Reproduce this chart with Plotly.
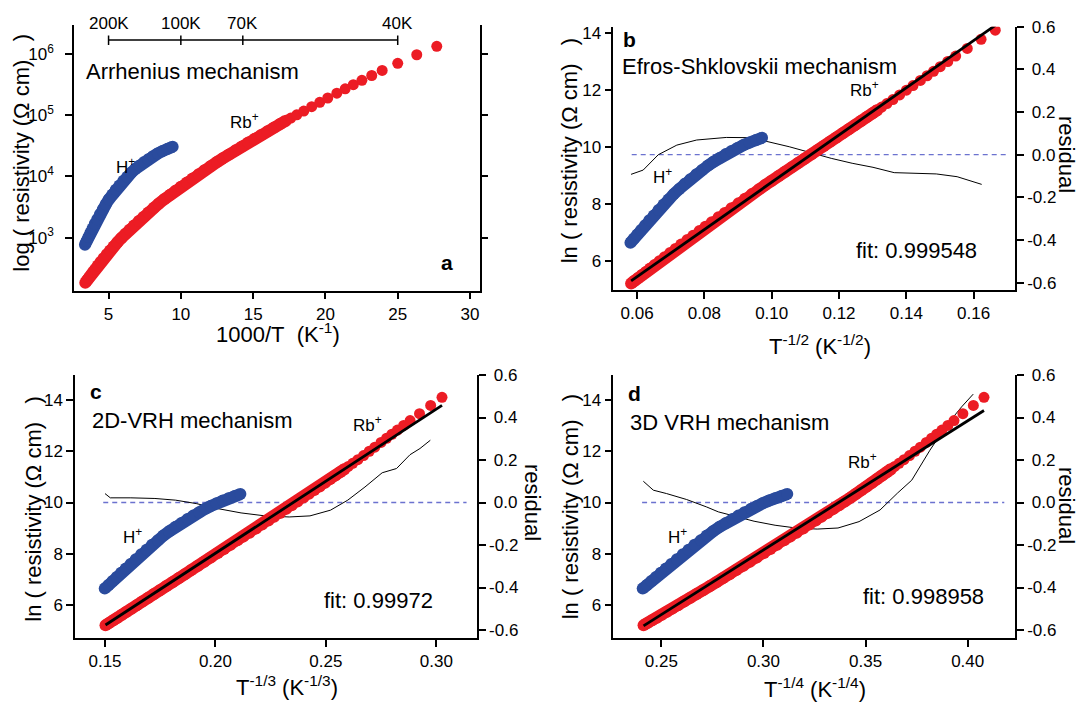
import numpy as np
import plotly.graph_objects as go

W, H = 1079, 705

# ---------------- data ----------------
# Rb+ sample: temperature (K) and ln(resistivity / Ohm cm)
T_Rb = [295, 285, 275, 265, 255, 245, 235, 225, 215, 205,
        196, 187, 178, 170, 162, 155, 148, 141, 135, 129,
        123, 118, 113, 108, 104, 100, 96, 92.5, 89, 86,
        83, 80, 77.5, 75, 72.5, 70.3, 68.2, 66.2, 64.3, 62.5,
        60.8, 59.2, 57.9,
        56.8, 55.5, 54.05, 52.5, 51.0, 49.6, 48.1, 46.8, 45.6, 44.4,
        43.1, 41.8, 40.0, 38.0, 36.1]
lnrho_Rb = [5.212, 5.302, 5.400, 5.504, 5.615, 5.734, 5.858, 5.992, 6.132, 6.281,
            6.425, 6.576, 6.737, 6.890, 7.052, 7.202, 7.363, 7.533, 7.689, 7.855,
            8.030, 8.187, 8.349, 8.522, 8.668, 8.822, 8.985, 9.137, 9.297, 9.440,
            9.591, 9.751, 9.892, 10.040, 10.196, 10.341, 10.485, 10.628, 10.772, 10.914,
            11.055, 11.192, 11.307,
            11.407, 11.529, 11.670, 11.833, 12.000, 12.161, 12.343, 12.507, 12.664, 12.827,
            13.008, 13.198, 13.467, 13.788, 14.106]
dense_limit_K = 57.9   # above this temperature the measured points merge into a band

# H+ sample
T_H = [297, 287, 277, 267, 257, 247, 237, 227, 217, 208,
       199, 190, 182, 174, 166, 159, 152, 146, 140, 134,
       129, 124, 119, 114.5, 110, 106]
lnrho_H = [6.640, 6.782, 6.935, 7.091, 7.255, 7.428, 7.601, 7.789, 7.981, 8.159,
           8.349, 8.531, 8.709, 8.874, 9.051, 9.200, 9.356, 9.488, 9.621, 9.755,
           9.862, 9.971, 10.074, 10.164, 10.253, 10.328]

# linear fits of the Rb+ data: [intercept, slope]
fit_b = [0.47, 82.95]     # ln rho vs T^-1/2
fit_c = [-3.231, 56.25]   # ln rho vs T^-1/3
fit_d = [-6.983, 50.43]   # ln rho vs T^-1/4
fit_labels = ["fit: 0.999548", "fit: 0.99972", "fit: 0.998958"]

# residual curves (right axes)
res_b_x = [0.0582, 0.0618, 0.0663, 0.0718, 0.0777, 0.0826, 0.0865, 0.0927, 0.0989, 0.1052,
           0.1114, 0.1177, 0.1239, 0.1301, 0.1364, 0.1426, 0.1489, 0.1551, 0.1624]
res_b = [-0.092, -0.072, 0.000, 0.045, 0.069, 0.077, 0.081, 0.080, 0.061, 0.0375,
         0.009, -0.017, -0.040, -0.059, -0.084, -0.0875, -0.090, -0.103, -0.139]
res_c_x = [0.1500, 0.1524, 0.1617, 0.1726, 0.1820, 0.1913, 0.2007, 0.2116, 0.2225, 0.2334,
           0.2428, 0.2521, 0.2599, 0.2677, 0.2755, 0.2820, 0.2881, 0.2926, 0.2973]
res_c = [0.042, 0.022, 0.022, 0.019, 0.011, -0.005, -0.028, -0.049, -0.063, -0.068,
         -0.063, -0.036, 0.011, 0.073, 0.140, 0.160, 0.225, 0.254, 0.293]
res_d_x = [0.2412, 0.2461, 0.2526, 0.2624, 0.2722, 0.2779, 0.2851, 0.2954, 0.3057, 0.3160,
           0.3263, 0.3365, 0.3468, 0.3571, 0.3657, 0.3726, 0.3815, 0.3897, 0.3970, 0.4027]
res_d = [0.100, 0.058, 0.042, 0.014, -0.021, -0.044, -0.062, -0.088, -0.107, -0.120,
         -0.125, -0.120, -0.090, -0.035, 0.045, 0.105, 0.246, 0.364, 0.450, 0.510]
zero_b = [0.0584, 0.1707]
zero_c = [0.1492, 0.3137]
zero_d = [0.2406, 0.4179]

# temperature scale bar of panel a
temps_bar = [200, 100, 70, 40]
temps_bar_labels = ["200K", "100K", "70K", "40K"]

# ticks
a_xticks = [5, 10, 15, 20, 25, 30]
a_yticks = [1e3, 1e4, 1e5, 1e6]
a_yticktext = ["10<sup>3</sup>", "10<sup>4</sup>", "10<sup>5</sup>", "10<sup>6</sup>"]
b_xticks = [0.06, 0.08, 0.10, 0.12, 0.14, 0.16]
c_xticks = [0.15, 0.20, 0.25, 0.30]
d_xticks = [0.25, 0.30, 0.35, 0.40]
ln_ticks = [6, 8, 10, 12, 14]
res_ticks = [-0.6, -0.4, -0.2, 0.0, 0.2, 0.4, 0.6]
res_ticktext = ["-0.6", "-0.4", "-0.2", "\u00a00.0", "\u00a00.2", "\u00a00.4", "\u00a00.6"]

# ---------------- styling ----------------
RED = "#ec1c24"
BLUE = "#2a4b9d"
DASH = "#6b72cf"
FONT = "Arial, Liberation Sans, sans-serif"
MS_DENSE = 12
MS_TAIL = 11


def py(y):
    return 1 - y / H


fig = go.Figure()

Tr = np.array(T_Rb, float)
Lr = np.array(lnrho_Rb, float)
Th = np.array(T_H, float)
Lh = np.array(lnrho_H, float)
dense_r = Tr >= dense_limit_K
dense_h = np.ones(len(Th), bool)


def add_band(x, y, color, xa, ya, mask):
    fig.add_trace(go.Scatter(x=x[mask], y=y[mask], mode="lines",
                             line=dict(color=color, width=MS_DENSE),
                             xaxis=xa, yaxis=ya, hoverinfo="skip", opacity=1))
    sizes = np.where(mask, MS_DENSE, MS_TAIL).tolist()
    fig.add_trace(go.Scatter(x=x, y=y, mode="markers", opacity=1,
                             marker=dict(color=color, size=sizes, opacity=1,
                                         line=dict(width=0)),
                             xaxis=xa, yaxis=ya))


# panel a: Arrhenius (log10 rho vs 1000/T)
add_band(1000.0 / Th, np.exp(Lh), BLUE, "x", "y", dense_h)
add_band(1000.0 / Tr, np.exp(Lr), RED, "x", "y", dense_r)

# panels b, c, d
panel_defs = [
    ("x2", "y5", "y2", 1 / 2, fit_b, res_b_x, res_b, zero_b),
    ("x3", "y6", "y3", 1 / 3, fit_c, res_c_x, res_c, zero_c),
    ("x4", "y7", "y4", 1 / 4, fit_d, res_d_x, res_d, zero_d),
]
for xa, ya_ln, ya_res, p, fit, rx, ry, zx in panel_defs:
    xr = Tr ** (-p)
    xh = Th ** (-p)
    fig.add_trace(go.Scatter(x=zx, y=[0, 0], mode="lines",
                             line=dict(color=DASH, width=1.3, dash="5px,4px"),
                             xaxis=xa, yaxis=ya_res))
    fig.add_trace(go.Scatter(x=rx, y=ry, mode="lines",
                             line=dict(color="black", width=1),
                             xaxis=xa, yaxis=ya_res))
    add_band(xh, Lh, BLUE, xa, ya_ln, dense_h)
    add_band(xr, Lr, RED, xa, ya_ln, dense_r)
    xf = np.array([xr.min(), xr.max()])
    fig.add_trace(go.Scatter(x=xf, y=fit[0] + fit[1] * xf, mode="lines",
                             line=dict(color="black", width=2.8),
                             xaxis=xa, yaxis=ya_ln))


def ax(**kw):
    d = dict(showline=True, linecolor="black", linewidth=1.5, ticks="outside",
             ticklen=7, tickwidth=1.5, tickcolor="black", showgrid=False,
             zeroline=False, tickfont=dict(size=17, color="black", family=FONT),
             fixedrange=True)
    d.update(kw)
    return d


dom_bot = [py(638.3), py(375)]
dom_left_a = [74.0 / W, 479.7 / W]
dom_left_c = [75.1 / W, 476.9 / W]
dom_right = [613.3 / W, 1015.0 / W]

layout = dict(
    width=W, height=H, autosize=False, template="none",
    margin=dict(l=0, r=0, t=0, b=0),
    paper_bgcolor="white", plot_bgcolor="rgba(0,0,0,0)",
    showlegend=False, font=dict(family=FONT, color="black"),
    xaxis=ax(domain=dom_left_a, anchor="y", range=[2.61, 30.67], tickvals=a_xticks),
    yaxis=ax(domain=[py(290.5), py(25)], anchor="x", type="log", range=[2.137, 6.474],
             tickvals=a_yticks, ticktext=a_yticktext, mirror="ticks",
             ticklabelstandoff=8),
    xaxis2=ax(domain=dom_right, anchor="y2", range=[0.05293, 0.1723],
              tickvals=b_xticks, tickformat=".2f"),
    yaxis2=ax(domain=[py(290), py(26.7)], anchor="x2", side="right",
              range=[-0.634, 0.6], tickvals=res_ticks, ticktext=res_ticktext),
    yaxis5=ax(overlaying="y2", anchor="x2", side="left", range=[4.981, 14.23],
              tickvals=ln_ticks),
    xaxis3=ax(domain=dom_left_c, anchor="y3", range=[0.13646, 0.31838],
              tickvals=c_xticks, tickformat=".2f"),
    yaxis3=ax(domain=dom_bot, anchor="x3", side="right", range=[-0.639, 0.6],
              tickvals=res_ticks, ticktext=res_ticktext),
    yaxis6=ax(overlaying="y3", anchor="x3", side="left", range=[4.70, 14.976],
              tickvals=ln_ticks),
    xaxis4=ax(domain=dom_right, anchor="y4", range=[0.2265, 0.42315],
              tickvals=d_xticks, tickformat=".2f"),
    yaxis4=ax(domain=dom_bot, anchor="x4", side="right", range=[-0.639, 0.6],
              tickvals=res_ticks, ticktext=res_ticktext),
    yaxis7=ax(overlaying="y4", anchor="x4", side="left", range=[4.70, 14.976],
              tickvals=ln_ticks),
)
fig.update_layout(**layout)

# temperature bar in panel a
bar_x = [1000.0 / t for t in temps_bar]
shapes = [dict(type="line", xref="x", yref="paper", x0=min(bar_x), x1=max(bar_x),
               y0=py(40), y1=py(40), line=dict(color="black", width=1.5))]
for bx in bar_x:
    shapes.append(dict(type="line", xref="x", yref="paper", x0=bx, x1=bx,
                       y0=py(35.5), y1=py(45), line=dict(color="black", width=1.5)))
fig.update_layout(shapes=shapes)

annotations = []


def ann(text, x, y, size=17, xanchor="left", yanchor="middle", angle=0, xref="paper"):
    annotations.append(dict(text=text, x=x / W if xref == "paper" else x, y=py(y),
                            xref=xref, yref="paper", xanchor=xanchor, yanchor=yanchor,
                            showarrow=False, textangle=angle,
                            font=dict(size=size, color="black", family=FONT)))


for bx, lab in zip(bar_x, temps_bar_labels):
    ann(lab, bx, 23.5, size=17, xanchor="center", xref="x")

# panel letters
ann("<b>a</b>", 447.3, 262, 21, "center")
ann("<b>b</b>", 629.4, 40, 21, "center")
ann("<b>c</b>", 96.4, 391, 21, "center")
ann("<b>d</b>", 634.3, 393, 21, "center")

# mechanism names
ann("Arrhenius mechanism", 84.4, 71.7, 22)
ann("Efros-Shklovskii mechanism", 620.3, 66.7, 22)
ann("2D-VRH mechanism", 90.2, 420, 22)
ann("3D VRH mechanism", 628, 422.7, 22)

# ion labels
for (x, y) in [(113.7, 166), (650.8, 176), (121.2, 536), (665.7, 536)]:
    ann("H<sup>+</sup>", x, y, 17)
for (x, y) in [(228, 121), (848.4, 89), (350.9, 424), (845.9, 461)]:
    ann("Rb<sup>+</sup>", x, y, 17)

# fit quality
ann(fit_labels[0], 853.9, 250, 22)
ann(fit_labels[1], 322, 600, 22)
ann(fit_labels[2], 860.9, 596.7, 22)

# axis titles
ann("1000/T\u00a0 (K<sup>-1</sup>)", 278, 333, 22, "center")
ann("T<sup>-1/2</sup> (K<sup>-1/2</sup>)", 820, 345, 22, "center")
ann("T<sup>-1/3</sup> (K<sup>-1/3</sup>)", 286.5, 686, 22, "center")
ann("T<sup>-1/4</sup> (K<sup>-1/4</sup>)", 815, 688, 22, "center")
ann("log ( resistivity (\u03a9 cm)\u00a0\u00a0 )", 20.7, 153, 22, "center", angle=-90)
ann("ln ( resistivity (\u03a9 cm)\u00a0\u00a0 )", 570.3, 151, 22, "center", angle=-90)
ann("ln ( resistivity (\u03a9 cm)\u00a0\u00a0 )", 32.7, 509, 22, "center", angle=-90)
ann("ln ( resistivity (\u03a9 cm)\u00a0\u00a0 )", 570.3, 507, 22, "center", angle=-90)
ann("residual", 1067, 154, 22, "center", angle=90)
ann("residual", 533, 502, 22, "center", angle=90)
ann("residual", 1067, 505, 22, "center", angle=90)

fig.update_layout(annotations=annotations)

fig.write_html("out.html",
               config={"displayModeBar": False},
               post_script="document.body.style.margin='0px';document.body.style.padding='0px';")
